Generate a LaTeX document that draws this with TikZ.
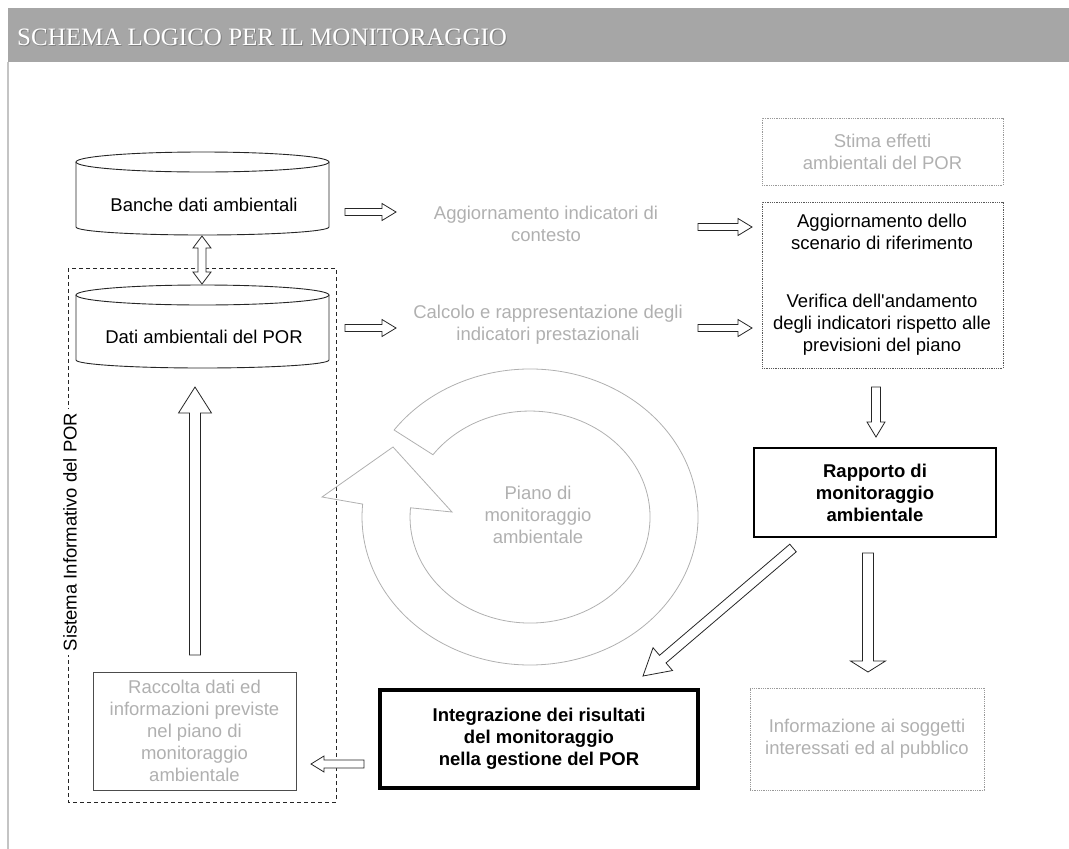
\documentclass[tikz,border=0pt]{standalone}
\usepackage{fontspec}
\setmainfont{Liberation Sans}
\newfontfamily\titlefont{Liberation Serif}
\usetikzlibrary{calc}

\definecolor{bargray}{HTML}{A6A6A6}
\definecolor{palegray}{HTML}{B0B0B0}
\definecolor{framegray}{HTML}{C4C4C4}

% freccia a blocco vuota: da, a, mezza asta, mezza punta, lunghezza punta
\newcommand{\blockarrow}[5]{%
  \coordinate (ba-c) at ($(#2)!#5!(#1)$);
  \draw[blk] ($(#1)!#3!90:(#2)$) -- ($(ba-c)!#3!-90:(#1)$) -- ($(ba-c)!#4!-90:(#1)$) -- (#2)
    -- ($(ba-c)!#4!90:(#1)$) -- ($(ba-c)!#3!90:(#1)$) -- ($(#1)!#3!-90:(#2)$) -- cycle;}
% freccia a blocco doppia
\newcommand{\blockarrowtwo}[5]{%
  \coordinate (bb-c) at ($(#1)!#5!(#2)$);
  \coordinate (bb-d) at ($(#2)!#5!(#1)$);
  \draw[blk] (#1) -- ($(bb-c)!#4!90:(#2)$) -- ($(bb-c)!#3!90:(#2)$) -- ($(bb-d)!#3!-90:(#1)$)
    -- ($(bb-d)!#4!-90:(#1)$) -- (#2) -- ($(bb-d)!#4!90:(#1)$) -- ($(bb-d)!#3!90:(#1)$)
    -- ($(bb-c)!#3!-90:(#2)$) -- ($(bb-c)!#4!-90:(#2)$) -- cycle;}

\begin{document}
\begin{tikzpicture}[x=1pt, y=-1pt,
  txt/.style={align=center, font=\fontsize{18.5}{22}\selectfont, inner sep=0pt},
  pale/.style={txt, text=palegray},
  boldtxt/.style={txt, font=\fontsize{18.5}{22}\selectfont\bfseries},
  blk/.style={draw=black!85, fill=white, line width=0.8pt, line join=miter},
  cyl/.style={draw=black!85, line width=0.9pt},
  ring/.style={draw=palegray, line width=0.8pt}
]
  \useasboundingbox (0,0) rectangle (1069,849);

  % testata
  \fill[bargray] (8,8) rectangle (1069,62);
  \draw[framegray, line width=1.5pt] (8,62) -- (8,849);
  \node[anchor=base west, inner sep=0pt, text=black!50, font=\titlefont\fontsize{25}{25}\selectfont] at (18,46) {SCHEMA LOGICO PER IL MONITORAGGIO};
  \node[anchor=base west, inner sep=0pt, text=white, font=\titlefont\fontsize{25}{25}\selectfont] (titolo) at (17,45) {SCHEMA LOGICO PER IL MONITORAGGIO};

  % sistema informativo
  \draw[black!85, line width=0.8pt, dash pattern=on 4pt off 3pt] (68,268) rectangle (336,802);
  \node[txt, rotate=90, fill=white, inner xsep=4pt, inner ysep=1pt] (sistema) at (70,532) {Sistema Informativo del POR};

  % banche dati
  \draw[cyl, fill=white] (76,162) -- (76,227) arc[start angle=180, end angle=0, x radius=126.5, y radius=8] -- (329,162);
  \draw[cyl] (202.5,162) ellipse [x radius=126.5, y radius=10];
  \node[txt] (banche) at (204,205) {Banche dati ambientali};
  \draw[cyl, fill=white] (76,295) -- (76,360) arc[start angle=180, end angle=0, x radius=126.5, y radius=8] -- (329,295);
  \draw[cyl] (202.5,295) ellipse [x radius=126.5, y radius=10];
  \node[txt] (datipor) at (204,337) {Dati ambientali del POR};

  \node[pale, draw=black!70, line width=0.8pt, minimum width=203pt, minimum height=118pt] (racc) at (194.5,731) {Raccolta dati ed\\informazioni previste\\nel piano di\\monitoraggio\\ambientale};

  % testi centrali
  \node[pale] (aggind) at (546,224) {Aggiornamento indicatori di\\contesto};
  \node[pale] (calc) at (548,325) {Calcolo e rappresentazione degli\\indicatori prestazionali};

  % colonna destra
  \node[pale, draw=black!40, densely dotted, line width=0.8pt, minimum width=241pt, minimum height=67pt] (stima) at (882.5,151.5) {Stima effetti\\ambientali del POR};
  \node[draw=black!65, densely dotted, line width=0.8pt, minimum width=241pt, minimum height=166pt] (quadro) at (882.5,285) {};
  \node[txt] (scen) at (882,232) {Aggiornamento dello\\scenario di riferimento};
  \node[txt] (verif) at (882,325) {Verifica dell\textquotesingle andamento\\degli indicatori rispetto alle\\previsioni del piano};
  \node[boldtxt, draw, line width=1.5pt, minimum width=242pt, minimum height=89pt] (rapp) at (875,492.5) {Rapporto di\\monitoraggio\\ambientale};
  \node[boldtxt, draw, line width=3.5pt, minimum width=318pt, minimum height=98pt] (integ) at (539,739) {Integrazione dei risultati\\del monitoraggio\\nella gestione del POR};
  \node[pale, draw=black!40, densely dotted, line width=0.8pt, minimum width=234pt, minimum height=102pt] (info) at (867,739) {Informazione ai soggetti\\interessati ed al pubblico};

  % ciclo del piano
  \draw[ring] (394.1,430) arc[start angle=-144, end angle=185, x radius=168, y radius=148]
    -- (322,497) -- (393,447) -- (452,512) -- (410.5,507.8)
    arc[start angle=185, end angle=-144, x radius=120, y radius=106] -- cycle;
  \node[pale] (piano) at (538,515) {Piano di\\monitoraggio\\ambientale};

  % frecce
  \coordinate (dd-s) at (202,236);  \coordinate (dd-e) at (202,284);
  \coordinate (a1s) at (345,212);   \coordinate (a1e) at (396,212);
  \coordinate (a2s) at (698,227);   \coordinate (a2e) at (752,227);
  \coordinate (a3s) at (345,328);   \coordinate (a3e) at (396,328);
  \coordinate (a4s) at (698,328);   \coordinate (a4e) at (752,328);
  \coordinate (d1s) at (876,387);   \coordinate (d1e) at (876,437);
  \coordinate (d2s) at (868,553);   \coordinate (d2e) at (868,672);
  \coordinate (dgs) at (793,548);   \coordinate (dge) at (643,676);
  \coordinate (lfs) at (364,764);   \coordinate (lfe) at (311,764);
  \coordinate (ups) at (195,655);   \coordinate (upe) at (195,387);

  \blockarrowtwo{dd-s}{dd-e}{4pt}{9pt}{12pt}
  \blockarrow{a1s}{a1e}{3.5pt}{8.5pt}{14pt}
  \blockarrow{a2s}{a2e}{3.5pt}{8.5pt}{14pt}
  \blockarrow{a3s}{a3e}{3.5pt}{8.5pt}{14pt}
  \blockarrow{a4s}{a4e}{3.5pt}{8.5pt}{14pt}
  \blockarrow{d1s}{d1e}{4.5pt}{9pt}{15pt}
  \blockarrow{d2s}{d2e}{5.5pt}{17.5pt}{11pt}
  \blockarrow{dgs}{dge}{5pt}{15pt}{26pt}
  \blockarrow{lfs}{lfe}{4pt}{8pt}{13pt}
  \blockarrow{ups}{upe}{5.5pt}{16.5pt}{26pt}
\end{tikzpicture}
\end{document}
